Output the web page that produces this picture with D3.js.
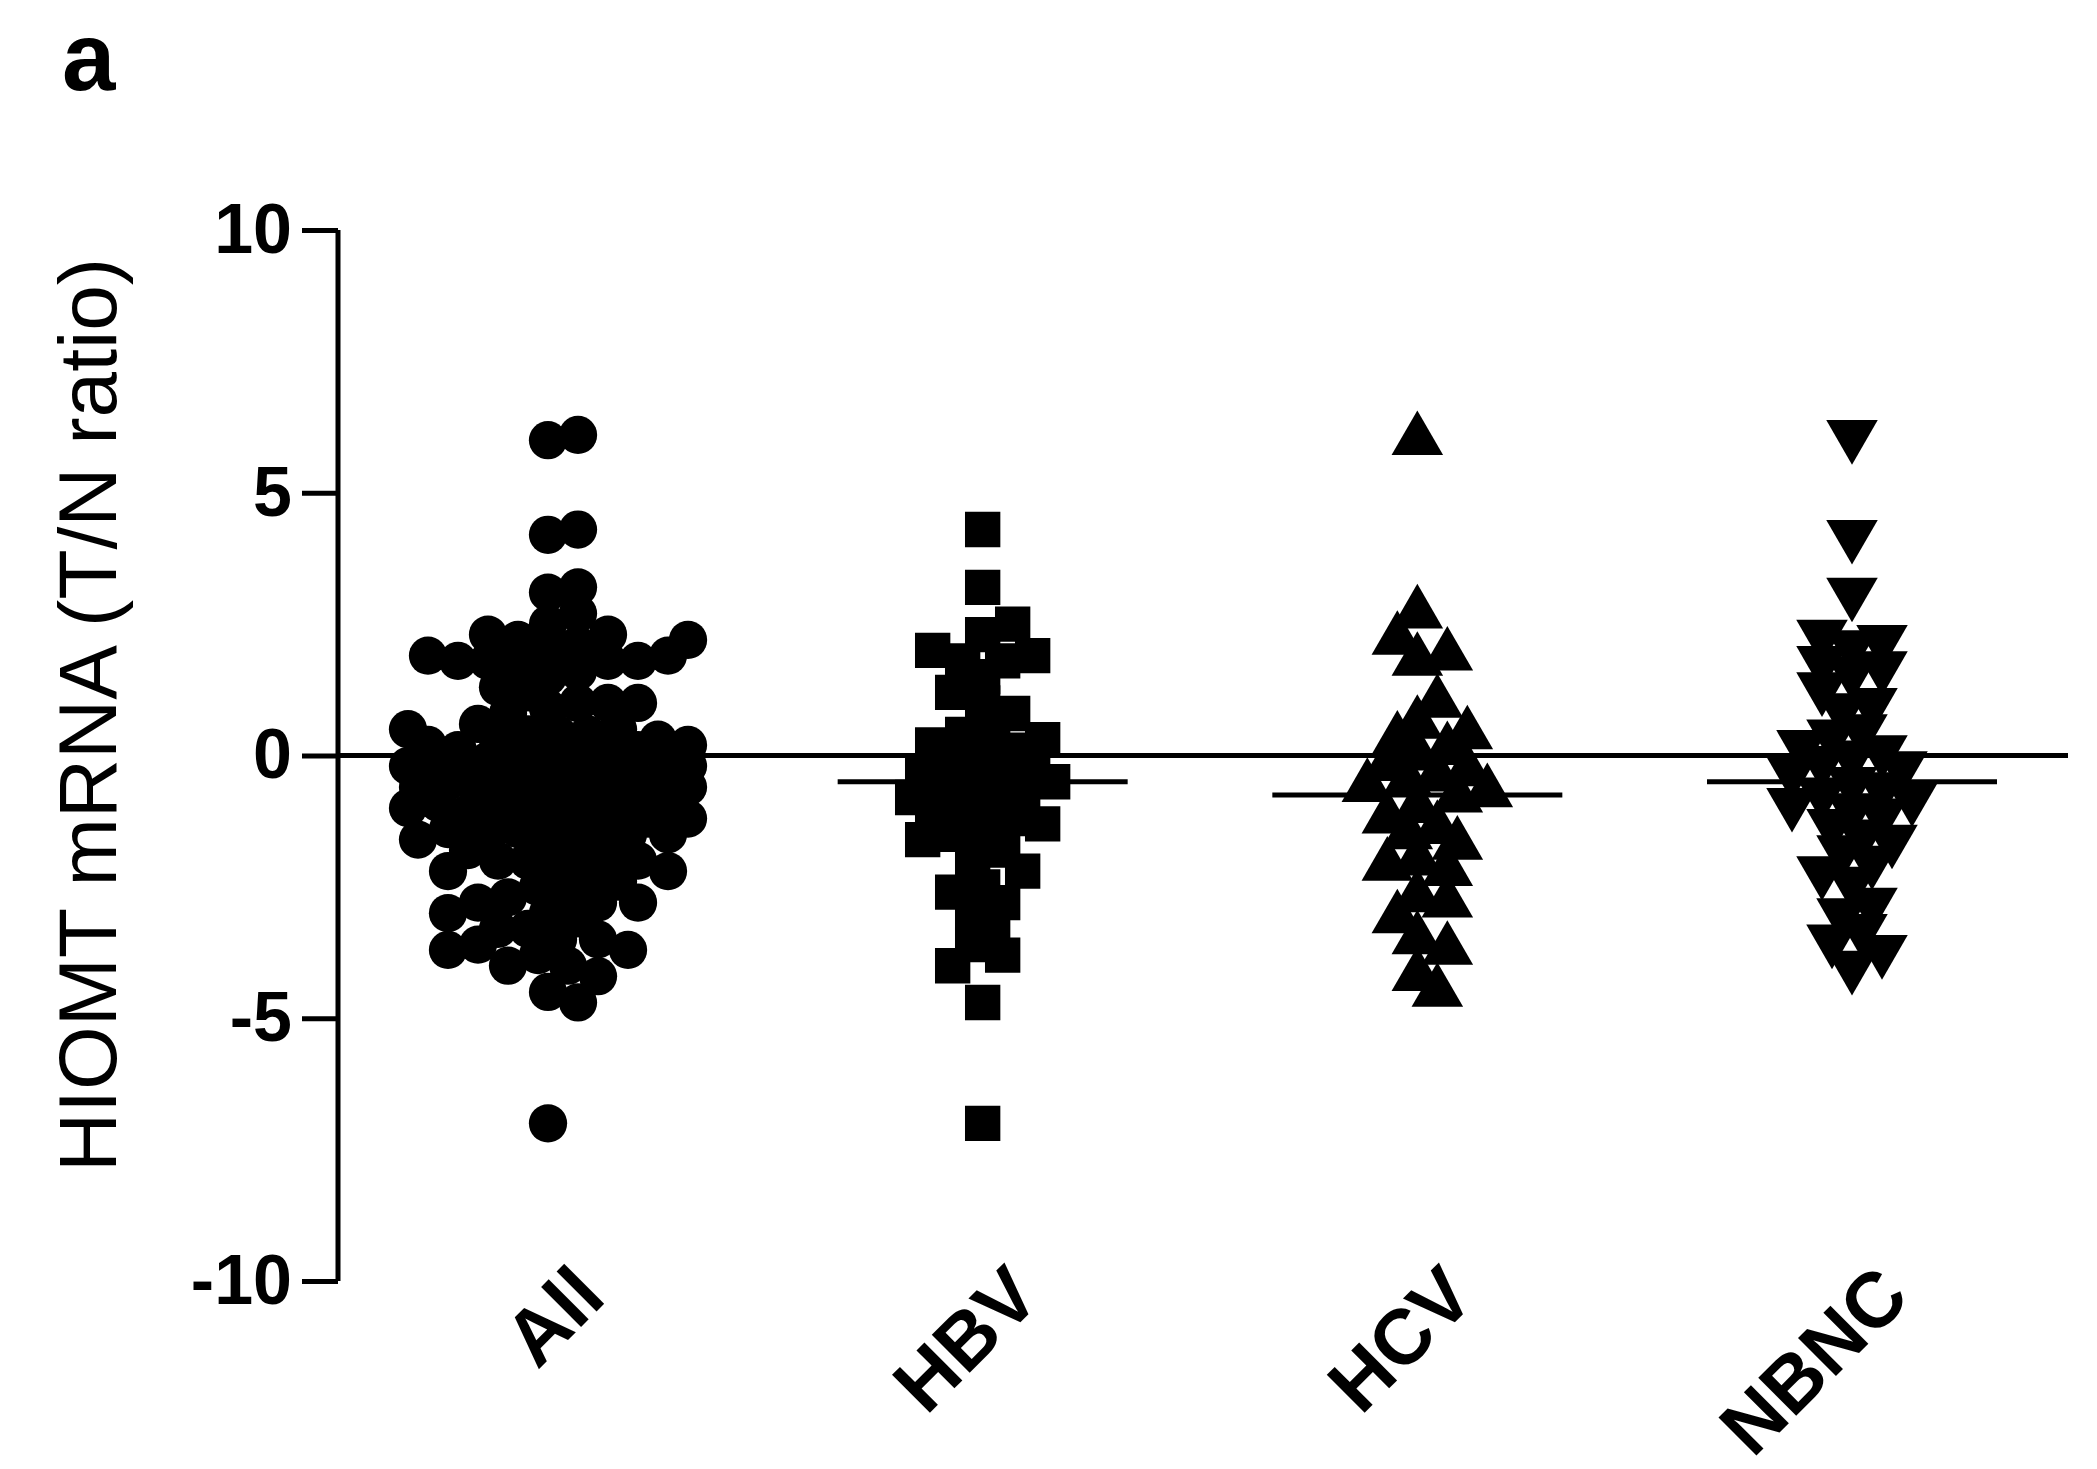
<!DOCTYPE html>
<html><head><meta charset="utf-8">
<script src="https://cdn.jsdelivr.net/npm/d3@7"></script>
<style>body{margin:0;background:#fff}text{font-family:"Liberation Sans",Arial,sans-serif}</style>
</head><body><div id="chart"></div>
<script>
// values
var hbv = [4.3, 3.2, 2.5, 2.3, 2.0, 1.9, 1.8, 1.8, 1.5, 1.2, 1.0, 0.8, 0.5, 0.4, 0.3, 0.2, 0.1, 0, -0.1, -0.2, -0.3, -0.4, -0.5, -0.5, -0.6, -0.7, -0.8, -0.9, -1.0, -1.1, -1.2, -1.3, -1.4, -1.5, -1.6, -1.8, -2.0, -2.2, -2.5, -2.6, -2.8, -3.0, -3.3, -3.6, -3.8, -4.0, -4.7, -7.0];
var hcv = [6.0, 2.7, 2.2, 1.9, 1.8, 1.0, 0.6, 0.4, 0.3, 0.1, 0, -0.2, -0.3, -0.4, -0.5, -0.6, -0.7, -0.8, -1.0, -1.2, -1.4, -1.5, -1.7, -2.0, -2.1, -2.2, -2.7, -2.8, -3.1, -3.5, -3.7, -4.2, -4.5];
var nbnc = [6.1, 4.2, 3.1, 2.3, 2.2, 2.1, 1.8, 1.7, 1.6, 1.3, 1.0, 0.9, 0.5, 0.4, 0.2, 0.1, 0, -0.1, -0.2, -0.3, -0.5, -0.6, -0.7, -0.8, -0.9, -1.0, -1.1, -1.3, -1.5, -1.6, -1.8, -2.0, -2.2, -2.4, -2.8, -3.0, -3.3, -3.5, -3.7, -4.0];
var all = hbv.concat(hcv, nbnc);
var categories = ["All", "HBV", "HCV", "NBNC"];
var groups = [all, hbv, hcv, nbnc];
var centers = [-0.6, -0.5, -0.75, -0.5];
var symbols = [d3.symbolCircle, d3.symbolSquare, d3.symbolTriangle, d3.symbolTriangle];
var yTicks = [10, 5, 0, -5, -10];

var W = 2097, H = 1469;
var svg = d3.select("#chart").append("svg").attr("width", W).attr("height", H);

var y = d3.scaleLinear().domain([-10, 10]).range([1281, 230]);
var x = d3.scalePoint().domain(categories).range([548, 1852]);

// y axis
var ax = svg.append("g").attr("transform", "translate(338,0)")
    .call(d3.axisLeft(y).tickValues(yTicks).tickSize(36).tickPadding(10).tickFormat(function (d) { return String(d); }));
ax.select(".domain").attr("stroke-width", 5).attr("d", "M0," + y(10) + "V" + y(-10));
ax.selectAll(".tick line").attr("stroke-width", 5);
ax.selectAll(".tick text").attr("font-size", 70).attr("font-weight", "bold")
    .attr("font-family", "Liberation Sans, Arial, sans-serif").attr("fill", "#000");

// zero line
svg.append("line").attr("x1", 338).attr("x2", 2068)
    .attr("y1", y(0)).attr("y2", y(0)).attr("stroke", "#000").attr("stroke-width", 5);

// compact beeswarm, clamped to +-140px
function swarm(vals, cx) {
    var sorted = vals.slice().sort(function (a, b) { return Math.abs(a) - Math.abs(b); });
    var placed = [], r = 12;
    sorted.forEach(function (v) {
        var py = y(v), best = null, bestD = -1;
        for (var k = 0; k < 29; k++) {
            var px = cx + (k % 2 ? 1 : -1) * Math.ceil(k / 2) * 10;
            var dmin = d3.min(placed, function (p) { return Math.hypot(p.x - px, p.y - py); });
            if (dmin === undefined) dmin = Infinity;
            if (dmin >= 2 * r) { best = px; break; }
            if (dmin > bestD) { bestD = dmin; best = px; }
        }
        placed.push({ x: best, y: py, v: v });
    });
    return placed;
}

groups.forEach(function (vals, i) {
    var cx = x(categories[i]);
    var pts = swarm(vals, cx);
    var sym = d3.symbol().type(symbols[i]).size(i === 1 ? 1250 : 1150);
    svg.append("g").selectAll("path").data(pts).enter().append("path")
        .attr("d", sym)
        .attr("transform", function (d) {
            return "translate(" + d.x + "," + d.y + ")" + (i === 3 ? " rotate(180)" : "");
        })
        .attr("fill", "#000");
    svg.append("line").attr("x1", cx - 145).attr("x2", cx + 145)
        .attr("y1", y(centers[i])).attr("y2", y(centers[i]))
        .attr("stroke", "#000").attr("stroke-width", 5);
    svg.append("text").attr("transform", "translate(" + (cx + 60) + ",1300) rotate(-45)")
        .attr("text-anchor", "end").attr("font-size", 78).attr("font-weight", "bold")
        .text(categories[i]);
});

svg.append("text").attr("transform", "translate(116,715) rotate(-90)")
    .attr("text-anchor", "middle").attr("font-size", 82).text("HIOMT mRNA (T/N ratio)");
svg.append("text").attr("x", 62).attr("y", 90).attr("font-size", 96)
    .attr("font-weight", "bold").text("a");
</script></body></html>
